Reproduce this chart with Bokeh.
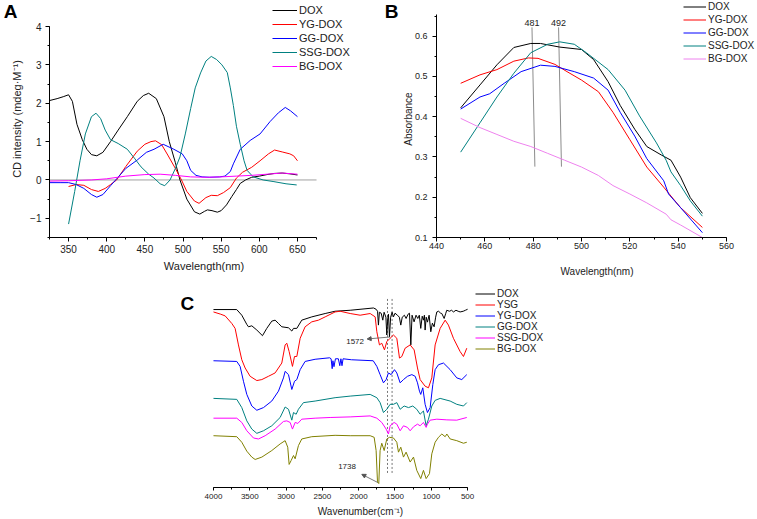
from bokeh.plotting import figure
from bokeh.models import (Range1d, SingleIntervalTicker, FixedTicker, LinearAxis, Legend,
                          LegendItem, Label, Arrow, NormalHead)
from bokeh.layouts import column, row
from bokeh.core.properties import value
from bokeh.embed import file_html
from bokeh.resources import INLINE

FONT = "Liberation Sans"

# ---------------- Panel A : CD spectra (wavelength nm, CD mdeg/M) ----------------
a_names = ["DOX", "YG-DOX", "GG-DOX", "SSG-DOX", "BG-DOX"]
a_colors = ["#000000", "#ff0000", "#0000ff", "#008080", "#ff00ff"]
a_xbounds = [325, 675]
a_dox = [(325, 2.07), (335, 2.12), (343, 2.17), (350, 2.22), (355, 2.05), (361, 1.45), (368, 1.05),
         (374, 0.8), (380, 0.66), (387, 0.63), (395, 0.72), (405, 1.0), (415, 1.3), (427, 1.65),
         (440, 2.05), (448, 2.2), (455, 2.26), (465, 2.12), (475, 1.65), (482, 1.0), (490, 0.45),
         (496, 0.0), (505, -0.5), (515, -0.83), (522, -0.89), (528, -0.82), (532, -0.78), (538, -0.8),
         (545, -0.84), (550, -0.8), (557, -0.65), (564, -0.43), (570, -0.25), (575, -0.09), (582, 0.0),
         (590, 0.07), (600, 0.1), (610, 0.14), (620, 0.17), (630, 0.18), (640, 0.16), (650, 0.13)]
a_yg = [(350, -0.17), (360, -0.12), (370, -0.14), (380, -0.25), (389, -0.3), (398, -0.22), (405, -0.12),
        (413, 0.0), (425, 0.35), (440, 0.75), (450, 0.93), (458, 1.0), (464, 1.02), (472, 0.92),
        (480, 0.65), (490, 0.3), (498, 0.0), (505, -0.3), (515, -0.55), (521, -0.61), (530, -0.46),
        (537, -0.4), (545, -0.41), (553, -0.33), (562, -0.2), (570, 0.05), (578, 0.2), (590, 0.33),
        (601, 0.5), (612, 0.68), (620, 0.78), (630, 0.73), (640, 0.68), (645, 0.63), (650, 0.5)]
a_gg = [(325, -0.07), (340, -0.07), (350, -0.07), (360, -0.12), (370, -0.22), (380, -0.38), (387, -0.45),
        (395, -0.38), (405, -0.15), (413, 0.03), (425, 0.3), (440, 0.52), (452, 0.72), (462, 0.8),
        (474, 0.93), (488, 0.8), (499, 0.68), (505, 0.5), (510, 0.25), (517, 0.12), (525, 0.08),
        (535, 0.07), (548, 0.08), (555, 0.1), (562, 0.22), (566, 0.42), (575, 0.8), (588, 1.03),
        (601, 1.2), (614, 1.52), (625, 1.75), (634, 1.89), (641, 1.8), (650, 1.65)]
a_ssg = [(350, -1.15), (358, -0.3), (365, 0.5), (372, 1.2), (380, 1.65), (386, 1.74), (392, 1.6),
         (398, 1.3), (405, 1.05), (415, 0.95), (427, 0.8), (437, 0.55), (445, 0.34), (455, 0.15),
         (462, 0.05), (470, -0.1), (476, -0.15), (483, 0.0), (490, 0.3), (496, 0.6), (503, 1.2),
         (510, 1.86), (516, 2.4), (523, 2.79), (530, 3.1), (537, 3.22), (544, 3.14), (551, 3.0),
         (558, 2.8), (562, 2.4), (566, 1.94), (570, 1.4), (575, 0.93), (580, 0.5), (584, 0.25),
         (592, 0.08), (605, 0.0), (618, -0.04), (635, -0.1), (649, -0.13)]
a_bg = [(325, -0.03), (350, -0.02), (380, 0.0), (400, 0.03), (425, 0.1), (450, 0.14), (470, 0.15),
        (490, 0.12), (510, 0.08), (530, 0.07), (550, 0.08), (570, 0.1), (590, 0.12), (610, 0.15),
        (630, 0.18), (650, 0.15)]
a_series = [a_dox, a_yg, a_gg, a_ssg, a_bg]

# ---------------- Panel B : UV-vis absorbance ----------------
b_names = ["DOX", "YG-DOX", "GG-DOX", "SSG-DOX", "BG-DOX"]
b_colors = ["#000000", "#ff0000", "#0000ff", "#008080", "#ee82ee"]
b_dox = [(450, 0.422), (458, 0.479), (465, 0.529), (472, 0.572), (479, 0.582), (483, 0.582), (491, 0.573),
         (500, 0.567), (505, 0.542), (511, 0.487), (516, 0.428), (522, 0.369), (527, 0.326), (533, 0.305),
         (537, 0.292), (541, 0.25), (545, 0.199), (550, 0.16)]
b_yg = [(450, 0.483), (458, 0.504), (465, 0.517), (472, 0.538), (478, 0.546), (482, 0.545), (489, 0.53),
        (494, 0.512), (500, 0.491), (507, 0.462), (513, 0.411), (520, 0.343), (527, 0.275), (534, 0.225),
        (537, 0.203), (541, 0.174), (550, 0.125)]
b_gg = [(450, 0.419), (458, 0.449), (462, 0.457), (468, 0.483), (475, 0.512), (483, 0.528), (489, 0.525),
        (497, 0.512), (505, 0.496), (511, 0.466), (516, 0.411), (522, 0.352), (527, 0.296), (534, 0.241),
        (536, 0.208), (541, 0.174), (550, 0.112)]
b_ssg = [(450, 0.312), (458, 0.385), (465, 0.449), (472, 0.508), (479, 0.559), (486, 0.58), (491, 0.586),
         (497, 0.58), (502, 0.559), (511, 0.517), (518, 0.466), (524, 0.402), (531, 0.335), (535, 0.292),
         (537, 0.263), (541, 0.229), (545, 0.191), (550, 0.153)]
b_bg = [(450, 0.396), (458, 0.373), (465, 0.356), (472, 0.339), (479, 0.326), (486, 0.309), (493, 0.292),
        (500, 0.275), (507, 0.254), (513, 0.229), (520, 0.208), (527, 0.186), (535, 0.158), (537, 0.144),
        (541, 0.131), (550, 0.1)]
b_series = [b_dox, b_yg, b_gg, b_ssg, b_bg]
b_peaks = [481, 492]
b_peak_labels = ["481", "492"]

# ---------------- Panel C : FTIR (wavenumber, stacked transmittance, a.u.) ----------------
c_names = ["DOX", "YSG", "YG-DOX", "GG-DOX", "SSG-DOX", "BG-DOX"]
c_colors = ["#000000", "#ff0000", "#0000ff", "#008080", "#ff00ff", "#808000"]
c_dox = [(4000, 179.7), (3680, 179.7), (3610, 174), (3541, 164.7), (3518, 162.3), (3472, 163.3), (3403, 159),
         (3325, 153.3), (3266, 160.7), (3197, 168), (3151, 169), (3105, 165.7), (3059, 162.3), (2967, 161.3),
         (2921, 158), (2898, 160.7), (2852, 160.7), (2784, 169), (2646, 172.3), (2462, 175.7), (2325, 178),
         (2117, 179), (1796, 181.3), (1760, 180), (1740, 178), (1728, 164), (1715, 177), (1690, 176),
         (1668, 169), (1650, 177), (1625, 172), (1613, 154), (1600, 170), (1590, 175), (1576, 152),
         (1560, 172), (1540, 177), (1521, 172.3), (1500, 176), (1466, 174), (1440, 172), (1420, 164),
         (1400, 172), (1370, 174), (1347, 170.7), (1320, 175), (1300, 176), (1282, 144), (1265, 174),
         (1237, 167.3), (1210, 174), (1186, 170.7), (1165, 174), (1145, 160.7), (1125, 173), (1108, 169),
         (1095, 174), (1085, 159), (1070, 172), (1053, 167), (1030, 174), (1007, 157.3), (985, 166),
         (961, 162.3), (940, 172), (924, 177.3), (900, 178), (870, 176), (855, 175.7), (823, 170.7),
         (800, 176), (787, 179), (750, 178), (720, 179), (695, 177.3), (660, 179), (630, 178), (603, 177.3),
         (560, 178), (530, 179), (500, 180)]
c_ysg = [(4000, 177.3), (3900, 175), (3839, 173.3), (3748, 165.7), (3702, 160.7), (3656, 144), (3610, 129),
         (3564, 120.7), (3495, 112.3), (3403, 108), (3334, 109), (3243, 112.3), (3151, 115.7), (3059, 125.7),
         (3013, 144), (2990, 145.7), (2958, 137.3), (2912, 122.3), (2884, 132.3), (2852, 132.3),
         (2806, 150.7), (2738, 162.3), (2646, 167.3), (2554, 169), (2462, 172.3), (2325, 177.3),
         (2255, 178), (2117, 175.7), (1980, 174), (1842, 175.7), (1773, 172.3), (1750, 157.3), (1714, 144),
         (1682, 145.7), (1645, 139), (1613, 147.3), (1567, 150.7), (1521, 154), (1475, 150.7), (1438, 130.7),
         (1406, 132.3), (1360, 140.7), (1291, 144), (1236, 139), (1190, 120.7), (1154, 109), (1085, 102.3),
         (1039, 100.7), (993, 110.7), (947, 144), (878, 160.7), (809, 169), (764, 164), (695, 150.7),
         (603, 137.3), (557, 132.3), (511, 140.7)]
c_yg = [(4000, 128), (3679, 127.3), (3633, 122.3), (3587, 107.3), (3541, 94), (3472, 82.3), (3403, 78),
        (3311, 80.7), (3197, 87.3), (3105, 97.3), (3036, 110.7), (3013, 117.3), (2967, 114), (2921, 99),
        (2884, 107.3), (2852, 109), (2806, 119), (2738, 127.3), (2600, 129.5), (2400, 131), (2380, 130),
        (2365, 120), (2355, 128), (2340, 122), (2320, 130), (2280, 130), (2260, 123), (2245, 130),
        (2230, 123), (2215, 130), (2100, 129), (1800, 128), (1750, 122.3), (1705, 114), (1659, 105.7),
        (1622, 109), (1590, 115.7), (1553, 114), (1507, 119), (1475, 115.7), (1429, 105.7), (1383, 109),
        (1328, 112.3), (1268, 114), (1222, 112.3), (1190, 105.7), (1163, 97.3), (1145, 94), (1117, 100.7),
        (1085, 84), (1053, 75.7), (1016, 80.7), (979, 104), (947, 119), (901, 124), (832, 125.7),
        (740, 119), (649, 110.7), (580, 109), (511, 114)]
c_gg = [(4000, 90), (3679, 89), (3610, 80.7), (3541, 67.3), (3472, 59), (3403, 54.7), (3311, 57.3),
        (3197, 62.3), (3082, 70.7), (3013, 81.3), (2967, 79), (2921, 68), (2898, 75.7), (2861, 74),
        (2830, 79), (2761, 85.7), (2600, 87.3), (2325, 90.7), (2117, 92.3), (1842, 94), (1750, 90.7),
        (1705, 85.7), (1659, 75.7), (1613, 79), (1567, 84), (1521, 84), (1475, 85.7), (1429, 79),
        (1374, 82.3), (1314, 80.7), (1255, 82.3), (1200, 79), (1154, 74), (1108, 77.3), (1071, 62.3),
        (1039, 69), (993, 82.3), (947, 88), (878, 90), (740, 87.3), (649, 84), (557, 82.3), (511, 85.7)]
c_ssg = [(4000, 70), (3679, 70), (3610, 65.7), (3541, 57.3), (3449, 50), (3380, 49), (3288, 52.3),
         (3151, 59), (3036, 66.7), (2990, 67.3), (2944, 65.7), (2912, 59), (2875, 65.7), (2838, 64.7),
         (2784, 69), (2600, 70), (2393, 70.7), (2117, 71.3), (1842, 72.3), (1750, 70), (1682, 65.7),
         (1622, 59), (1590, 54), (1567, 62.3), (1512, 65.7), (1475, 64), (1429, 57.3), (1383, 62.3),
         (1328, 60.7), (1291, 57.3), (1245, 61.3), (1190, 64), (1154, 62.3), (1108, 65.7), (1071, 60.7),
         (1053, 64), (1016, 68), (924, 69), (786, 68.3), (649, 68), (511, 70.7)]
c_bg = [(4000, 52.3), (3679, 51.3), (3610, 45.7), (3541, 36.7), (3472, 30.7), (3426, 28.3), (3334, 30.7),
        (3197, 37.3), (3082, 44), (3013, 47.3), (2977, 40.7), (2958, 23.3), (2930, 27.3), (2898, 32.3),
        (2875, 29), (2830, 42.3), (2784, 49), (2646, 51.3), (2325, 52.7), (2117, 52.3), (1842, 52.3),
        (1787, 50.7), (1760, 37.3), (1741, 5.7), (1723, 4), (1705, 37.3), (1682, 44.7), (1649, 37.3),
        (1613, 49), (1576, 50.7), (1521, 50), (1475, 45.7), (1452, 35.7), (1420, 40.7), (1383, 30.7),
        (1347, 35.7), (1291, 25.7), (1245, 30.7), (1200, 17.3), (1145, 9), (1108, 17.3), (1071, 9),
        (1025, 14), (993, 34), (947, 45.7), (901, 50.7), (855, 54), (809, 51.3), (786, 54), (740, 49),
        (649, 47.3), (557, 44.7), (511, 45.7)]
c_series = [c_dox, c_ysg, c_yg, c_gg, c_ssg, c_bg]
c_guide_wn = [1603, 1540]
c_peak_labels = ["1572", "1738"]


def xs(pts):
    return [p[0] for p in pts]


def ys(pts):
    return [p[1] for p in pts]


def base_fig(**kw):
    p = figure(output_backend="svg", toolbar_location=None, **kw)
    p.outline_line_color = None
    p.xgrid.visible = False
    p.ygrid.visible = False
    p.background_fill_color = "white"
    p.border_fill_color = "white"
    return p


def style_axis(ax, tick_size, label_size, major_std, label_std, tick_out=4):
    ax.axis_line_color = "black"
    ax.axis_line_width = 1
    ax.major_tick_in = 0
    ax.major_tick_out = tick_out
    ax.minor_tick_in = 0
    ax.minor_tick_out = 2
    ax.major_tick_line_color = "black"
    ax.minor_tick_line_color = "black"
    ax.major_label_text_font = FONT
    ax.major_label_text_font_size = tick_size
    ax.major_label_text_color = "#222222"
    ax.axis_label_text_font = FONT
    ax.axis_label_text_font_size = label_size
    ax.axis_label_text_font_style = "normal"
    ax.axis_label_text_color = "#222222"
    ax.major_label_standoff = major_std
    ax.axis_label_standoff = label_std


def make_legend(items, loc, size, row_h, glyph_w, standoff):
    return Legend(items=items, location=loc, label_text_font=FONT, label_text_font_size=size,
                  label_text_color="#222222", label_height=row_h, glyph_height=row_h,
                  glyph_width=glyph_w, label_standoff=standoff, spacing=0, padding=0, margin=0,
                  border_line_alpha=0, background_fill_alpha=0)


def letter_axis(p, txt, y_tick, std):
    # bare outer axis in the left panel whose single tick label is the panel letter
    ax = LinearAxis(ticker=FixedTicker(ticks=[y_tick], minor_ticks=[]),
                    major_label_overrides={y_tick: txt}, axis_line_color=None,
                    major_tick_line_color=None, minor_tick_line_color=None,
                    major_tick_out=0, major_tick_in=0, minor_tick_out=0, minor_tick_in=0,
                    major_label_standoff=std, major_label_text_font=FONT,
                    major_label_text_font_style="bold", major_label_text_font_size="19px",
                    major_label_text_color="black")
    p.add_layout(ax, "left")


# ---------------- Figure A (x 0-380, y 0-285) ----------------
pA = base_fig(width=380, height=285, x_range=Range1d(325, 730), y_range=Range1d(-1.5, 4.678),
              min_border_left=49, min_border_right=22, min_border_top=0, min_border_bottom=48)
pA.xaxis.ticker = SingleIntervalTicker(interval=50, num_minor_ticks=2)
pA.yaxis.ticker = SingleIntervalTicker(interval=1, num_minor_ticks=2)
pA.xaxis.bounds = tuple(a_xbounds)
pA.yaxis.bounds = (-1.5, 4)
pA.xaxis.axis_label = "Wavelength(nm)"
pA.yaxis.axis_label = "CD intensity (mdeg·M⁻¹)"
style_axis(pA.xaxis[0], "10px", "11px", 3, 4)
style_axis(pA.yaxis[0], "10px", "11px", 4, 4)
pA.line(a_xbounds, [0, 0], line_color="#a0a0a0", line_width=1)
itemsA = []
for name, col, s in zip(a_names, a_colors, a_series):
    r = pA.line(xs(s), ys(s), line_color=col, line_width=1)
    itemsA.append(LegendItem(label=name, renderers=[r]))
pA.add_layout(make_legend(itemsA, (223, 164), "11px", 14, 25, 2))
letter_axis(pA, "A", 4.42, -9)

# ---------------- Figure B (x 380-757, y 0-285) ----------------
pB = base_fig(width=377, height=285, x_range=Range1d(440, 572.8), y_range=Range1d(0.1, 0.6887),
              min_border_left=56, min_border_right=0, min_border_top=0, min_border_bottom=48)
pB.xaxis.ticker = SingleIntervalTicker(interval=20, num_minor_ticks=2)
pB.yaxis.ticker = SingleIntervalTicker(interval=0.1, num_minor_ticks=2)
pB.xaxis.bounds = (440, 560)
pB.yaxis.bounds = (0.1, 0.653)
pB.xaxis.axis_label = "Wavelength(nm)"
pB.yaxis.axis_label = "Absorbance"
style_axis(pB.xaxis[0], "9px", "10px", 1, 14)
style_axis(pB.yaxis[0], "9px", "10px", 5, -2)
pB.segment(x0=[w - 1.5 for w in b_peaks], y0=[0.622] * len(b_peaks),
           x1=[w - 0.3 for w in b_peaks], y1=[0.276] * len(b_peaks),
           line_color="#8c8c8c", line_width=1)
pB.text(x=[w - 1.5 for w in b_peaks], y=[0.626] * len(b_peaks), text=b_peak_labels,
        text_font=value(FONT), text_font_size="9px", text_align="center",
        text_baseline="bottom", text_color="#222222")
itemsB = []
for name, col, s in zip(b_names, b_colors, b_series):
    r = pB.line(xs(s), ys(s), line_color=col, line_width=1)
    itemsB.append(LegendItem(label=name, renderers=[r]))
pB.add_layout(make_legend(itemsB, (247, 172), "10px", 13, 23, 2))
letter_axis(pB, "B", 0.664, 1)

# ---------------- Figure C (x 0-757, y 285-519) ----------------
pC = base_fig(width=757, height=234, x_range=Range1d(4523, -573), y_range=Range1d(0, 204),
              y_axis_location=None, min_border_left=175, min_border_right=212,
              min_border_top=0, min_border_bottom=30)
pC.xaxis.ticker = SingleIntervalTicker(interval=500, num_minor_ticks=2)
pC.xaxis.bounds = (500, 4000)
pC.xaxis.axis_label = "Wavenumber(cm⁻¹)"
style_axis(pC.xaxis[0], "8px", "10px", 3, 4, tick_out=3)
pC.segment(x0=c_guide_wn, y0=[14.7] * 2, x1=c_guide_wn, y1=[190.7] * 2,
           line_color="#555555", line_width=0.8, line_dash="2 2")
itemsC = []
for name, col, s in zip(c_names, c_colors, c_series):
    r = pC.line(xs(s), ys(s), line_color=col, line_width=1)
    itemsC.append(LegendItem(label=name, renderers=[r]))
pC.text(x=[2172, 2283], y=[147, 21], text=c_peak_labels, text_font=value(FONT),
        text_font_size="8px", text_align="left", text_baseline="middle", text_color="#222222")
pC.add_layout(Arrow(end=NormalHead(size=4, line_color="#555555", fill_color="#555555"),
                    x_start=1567, y_start=152, x_end=1883, y_end=150,
                    line_color="#555555", line_width=0.8))
pC.add_layout(Arrow(end=NormalHead(size=4, line_color="#555555", fill_color="#555555"),
                    x_start=1736, y_start=5, x_end=1957, y_end=13.3,
                    line_color="#555555", line_width=0.8))
pC.add_layout(make_legend(itemsC, (300, 133), "10px", 11, 20, 2))
pC.add_layout(Label(x=5, y=184.5, x_units="screen", y_units="screen", text="C",
                    text_font=FONT, text_font_style="bold", text_font_size="19px",
                    text_baseline="alphabetic", text_align="left", text_color="black"))

layout = column(row(pA, pB), pC)
open("out.html", "w").write(file_html(layout, INLINE))
